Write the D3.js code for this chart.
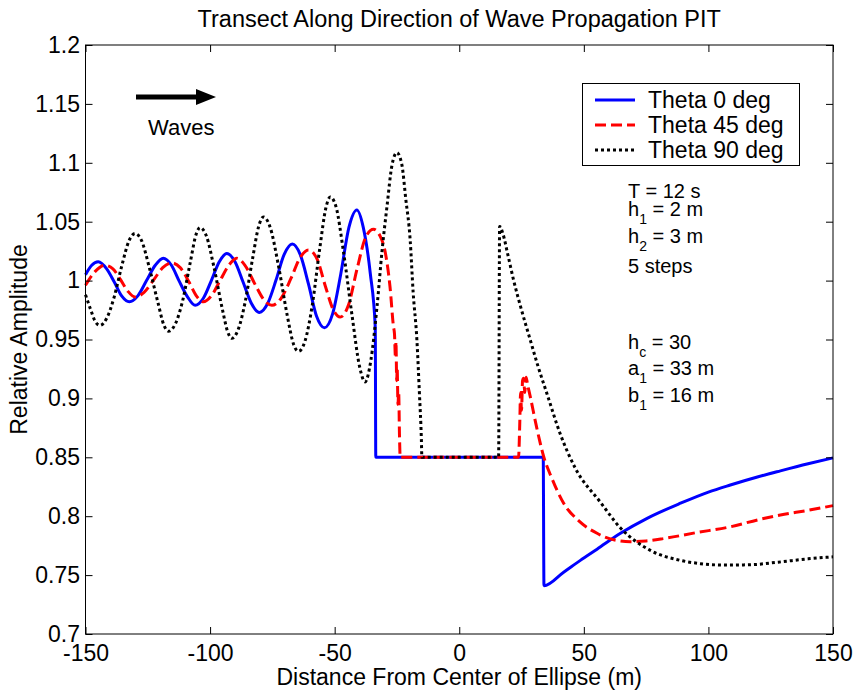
<!DOCTYPE html>
<html>
<head>
<meta charset="utf-8">
<script src="https://cdn.jsdelivr.net/npm/d3@7"></script>
<style>
  body { margin: 0; background: #fff; }
  text { font-family: "Liberation Sans", Arial, sans-serif; fill: #000; }
</style>
</head>
<body>
<svg id="chart" width="854" height="692"></svg>
<script>
// tick values and labels
var xTicks = [-150, -100, -50, 0, 50, 100, 150];
var xTickLabels = ["-150", "-100", "-50", "0", "50", "100", "150"];
var yTicks = [0.7, 0.75, 0.8, 0.85, 0.9, 0.95, 1, 1.05, 1.1, 1.15, 1.2];
var yTickLabels = ["0.7", "0.75", "0.8", "0.85", "0.9", "0.95", "1", "1.05", "1.1", "1.15", "1.2"];

var seriesNames = ["Theta 0 deg", "Theta 45 deg", "Theta 90 deg"];

// [distance (m), relative amplitude]
var theta0 = [
  [-150, 1.005], [-147.5, 1.013], [-144.9, 1.016], [-141.5, 1.010], [-138.5, 0.999],
  [-135.5, 0.987], [-132.4, 0.982], [-129, 0.987], [-125.5, 1.000], [-122, 1.013],
  [-118.8, 1.019], [-115.5, 1.013], [-112.5, 1.000], [-109, 0.986], [-106, 0.979],
  [-102.7, 0.985], [-99.5, 1.000], [-96.3, 1.016], [-93.3, 1.023], [-90, 1.016],
  [-86.8, 0.999], [-83.5, 0.981], [-80.2, 0.973], [-76.8, 0.981], [-73.6, 1.000],
  [-70.3, 1.022], [-67, 1.031], [-63.8, 1.022], [-60.5, 0.997], [-57.3, 0.970],
  [-54.1, 0.960], [-50.8, 0.972], [-47.6, 1.005], [-44.3, 1.045], [-41.1, 1.060],
  [-38.5, 1.045], [-35.7, 1.006], [-33.7, 0.960], [-33.5, 0.850], [33.7, 0.850],
  [34, 0.741], [41.9, 0.7525], [48.6, 0.7625], [55.3, 0.772], [64.7, 0.7855],
  [75.4, 0.7982], [88.8, 0.811], [100, 0.8205], [108.8, 0.8265], [120, 0.8335],
  [128.9, 0.8385], [140, 0.8445], [150, 0.8495]
];

var theta45 = [
  [-150, 0.996], [-146, 1.008], [-142.2, 1.013], [-139, 1.010], [-136, 1.001],
  [-133, 0.991], [-130.1, 0.986], [-126.5, 0.990], [-122.5, 1.001], [-119, 1.011],
  [-115.4, 1.015], [-112, 1.011], [-108.5, 0.999], [-105.5, 0.987], [-102.7, 0.982],
  [-99.5, 0.987], [-96, 1.000], [-92.5, 1.013], [-89.3, 1.019], [-86, 1.013],
  [-82, 0.997], [-78.5, 0.984], [-75.2, 0.979], [-71.5, 0.985], [-67.5, 1.002],
  [-64, 1.019], [-60.5, 1.026], [-57, 1.018], [-53.7, 0.995], [-50.5, 0.975],
  [-47.8, 0.969], [-44.5, 0.979], [-41, 1.010], [-37.5, 1.037], [-34.4, 1.0435],
  [-31.8, 1.038], [-29.7, 1.024], [-27.8, 0.995], [-26.4, 0.961], [-26.0, 0.955],
  [-25.6, 0.935], [-25.4, 0.948], [-25.1, 0.915], [-24.9, 0.925], [-24.6, 0.895],
  [-24.3, 0.905], [-24.0, 0.870], [-23.7, 0.850], [23.8, 0.850], [24.3, 0.880],
  [24.6, 0.905], [25.0, 0.890], [25.4, 0.915], [25.8, 0.917], [26.3, 0.905],
  [26.8, 0.918], [27.4, 0.912], [28.5, 0.9015], [31, 0.876], [33.9, 0.8505],
  [37, 0.833], [41.9, 0.811], [48, 0.796], [55.3, 0.7855], [62, 0.780],
  [68.7, 0.7784], [75, 0.779], [82, 0.781], [95, 0.786], [108.8, 0.791],
  [120, 0.797], [128.9, 0.801], [140, 0.805], [150, 0.809]
];

var theta90 = [
  [-150, 0.988], [-148.2, 0.977], [-146, 0.965], [-144.2, 0.962], [-141.5, 0.968],
  [-138.5, 0.986], [-135.5, 1.012], [-132.5, 1.034], [-130.1, 1.040], [-127.5, 1.034],
  [-124.5, 1.012], [-121, 0.982], [-118.5, 0.962], [-116.7, 0.957], [-114, 0.963],
  [-111, 0.983], [-108, 1.015], [-105.5, 1.040], [-104, 1.045], [-101.5, 1.038],
  [-98.5, 1.012], [-95, 0.975], [-93, 0.957], [-91.3, 0.951], [-88.8, 0.958],
  [-86, 0.981], [-83, 1.018], [-80.5, 1.046], [-78.6, 1.054], [-76, 1.046],
  [-72.5, 1.012], [-69, 0.970], [-66.5, 0.946], [-64.5, 0.940], [-62, 0.948],
  [-59, 0.979], [-56, 1.027], [-53.5, 1.062], [-51.8, 1.071], [-49.5, 1.063],
  [-46.5, 1.025], [-43, 0.970], [-40, 0.927], [-37.8, 0.914], [-35.5, 0.932],
  [-33, 0.978], [-31, 1.025], [-29, 1.063], [-27, 1.098], [-25, 1.1086],
  [-23, 1.098], [-21.5, 1.070], [-19.7, 1.0345], [-18.5, 0.990], [-17, 0.9496],
  [-16, 0.905], [-15.2, 0.865], [-15, 0.850], [15.8, 0.850], [16.2, 1.046],
  [17.5, 1.040], [19.5, 1.022], [21.8, 1.0005], [25, 0.975], [28.5, 0.9496],
  [31.5, 0.928], [35.2, 0.904], [40.5, 0.870], [46.6, 0.8407], [56.6, 0.812],
  [64.7, 0.790], [76.7, 0.771], [88.8, 0.7625], [96.8, 0.7597], [106.2, 0.7585],
  [116.9, 0.7588], [128, 0.7610], [140, 0.7638], [150, 0.7655]
];

var allSeries = [theta0, theta45, theta90];
var colors = ["#0000ff", "#ff0000", "#000000"];
var dashes = [null, "11,5", "3,3"];

var svg = d3.select("svg#chart");
var plotLeft = 85.5, plotRight = 833, plotTop = 45, plotBottom = 634;

var x = d3.scaleLinear().domain([-150, 150]).range([plotLeft, plotRight]);
var y = d3.scaleLinear().domain([0.7, 1.2]).range([plotBottom, plotTop]);

// title
svg.append("text")
  .attr("x", (plotLeft + plotRight) / 2)
  .attr("y", 27)
  .attr("text-anchor", "middle")
  .style("font-size", "23.5px")
  .text("Transect Along Direction of Wave Propagation PIT");

// series lines
var line = d3.line()
  .x(function (d) { return x(d[0]); })
  .y(function (d) { return y(d[1]); })
  .curve(d3.curveMonotoneX);

svg.append("g")
  .selectAll("path")
  .data(allSeries)
  .join("path")
  .attr("fill", "none")
  .attr("stroke", function (d, i) { return colors[i]; })
  .attr("stroke-width", 3)
  .attr("stroke-dasharray", function (d, i) { return dashes[i]; })
  .attr("d", line);

// axes with inward ticks, MATLAB box style
var fmtX = function (d) { return xTickLabels[xTicks.indexOf(d)]; };
var fmtY = function (d) { return yTickLabels[yTicks.indexOf(d)]; };

svg.append("g")
  .attr("transform", "translate(0," + plotBottom + ")")
  .call(d3.axisBottom(x).tickValues(xTicks).tickFormat(fmtX)
    .tickSizeInner(-7).tickSizeOuter(0).tickPadding(11));
svg.append("g")
  .attr("transform", "translate(0," + plotTop + ")")
  .call(d3.axisTop(x).tickValues(xTicks).tickFormat("")
    .tickSizeInner(-7).tickSizeOuter(0));
svg.append("g")
  .attr("transform", "translate(" + plotLeft + ",0)")
  .call(d3.axisLeft(y).tickValues(yTicks).tickFormat(fmtY)
    .tickSizeInner(-7).tickSizeOuter(0).tickPadding(5.5));
svg.append("g")
  .attr("transform", "translate(" + plotRight + ",0)")
  .call(d3.axisRight(y).tickValues(yTicks).tickFormat("")
    .tickSizeInner(-7).tickSizeOuter(0));

svg.selectAll(".domain").remove();
svg.selectAll(".tick line").attr("stroke", "#000").attr("stroke-width", 1);
svg.selectAll(".tick text")
  .style("font-size", "23px")
  .style("font-family", "'Liberation Sans', Arial, sans-serif")
  .attr("fill", "#000");

svg.append("rect")
  .attr("x", plotLeft).attr("y", plotTop)
  .attr("width", plotRight - plotLeft).attr("height", plotBottom - plotTop)
  .attr("fill", "none").attr("stroke", "#000").attr("stroke-width", 1);

// axis labels
svg.append("text")
  .attr("x", (plotLeft + plotRight) / 2)
  .attr("y", 685)
  .attr("text-anchor", "middle")
  .style("font-size", "23px")
  .text("Distance From Center of Ellipse (m)");

svg.append("text")
  .attr("transform", "translate(27," + (plotTop + plotBottom) / 2 + ") rotate(-90)")
  .attr("text-anchor", "middle")
  .style("font-size", "23px")
  .text("Relative Amplitude");

// waves arrow
svg.append("line")
  .attr("x1", 136).attr("x2", 200)
  .attr("y1", 97).attr("y2", 97)
  .attr("stroke", "#000").attr("stroke-width", 5);
svg.append("path")
  .attr("d", "M196,89 L216,97 L196,105 Z")
  .attr("fill", "#000");
svg.append("text")
  .attr("x", 148).attr("y", 135)
  .style("font-size", "22px")
  .text("Waves");

// legend
var legend = svg.append("g");
legend.append("rect")
  .attr("x", 582.5).attr("y", 83.5)
  .attr("width", 217).attr("height", 82)
  .attr("fill", "#fff").attr("stroke", "#000").attr("stroke-width", 1);
seriesNames.forEach(function (name, i) {
  var ry = 100 + i * 25;
  legend.append("line")
    .attr("x1", 595).attr("x2", 635)
    .attr("y1", ry).attr("y2", ry)
    .attr("stroke", colors[i]).attr("stroke-width", 3)
    .attr("stroke-dasharray", dashes[i]);
  legend.append("text")
    .attr("x", 648).attr("y", ry + 8)
    .style("font-size", "23px")
    .text(name);
});

// parameter notes: [main, subscript, rest, baseline]
var notes = [
  ["T = 12 s", "", "", 198],
  ["h", "1", " = 2 m", 216],
  ["h", "2", " = 3 m", 243],
  ["5 steps", "", "", 273],
  ["h", "c", " = 30", 349],
  ["a", "1", " = 33 m", 375],
  ["b", "1", " = 16 m", 402]
];
notes.forEach(function (n) {
  var t = svg.append("text")
    .attr("x", 628).attr("y", n[3])
    .style("font-size", "20px");
  t.append("tspan").text(n[0]);
  if (n[1]) {
    t.append("tspan").attr("dy", 8).style("font-size", "14px").text(n[1]);
    t.append("tspan").attr("dy", -8).text(n[2]);
  }
});
</script>
</body>
</html>
